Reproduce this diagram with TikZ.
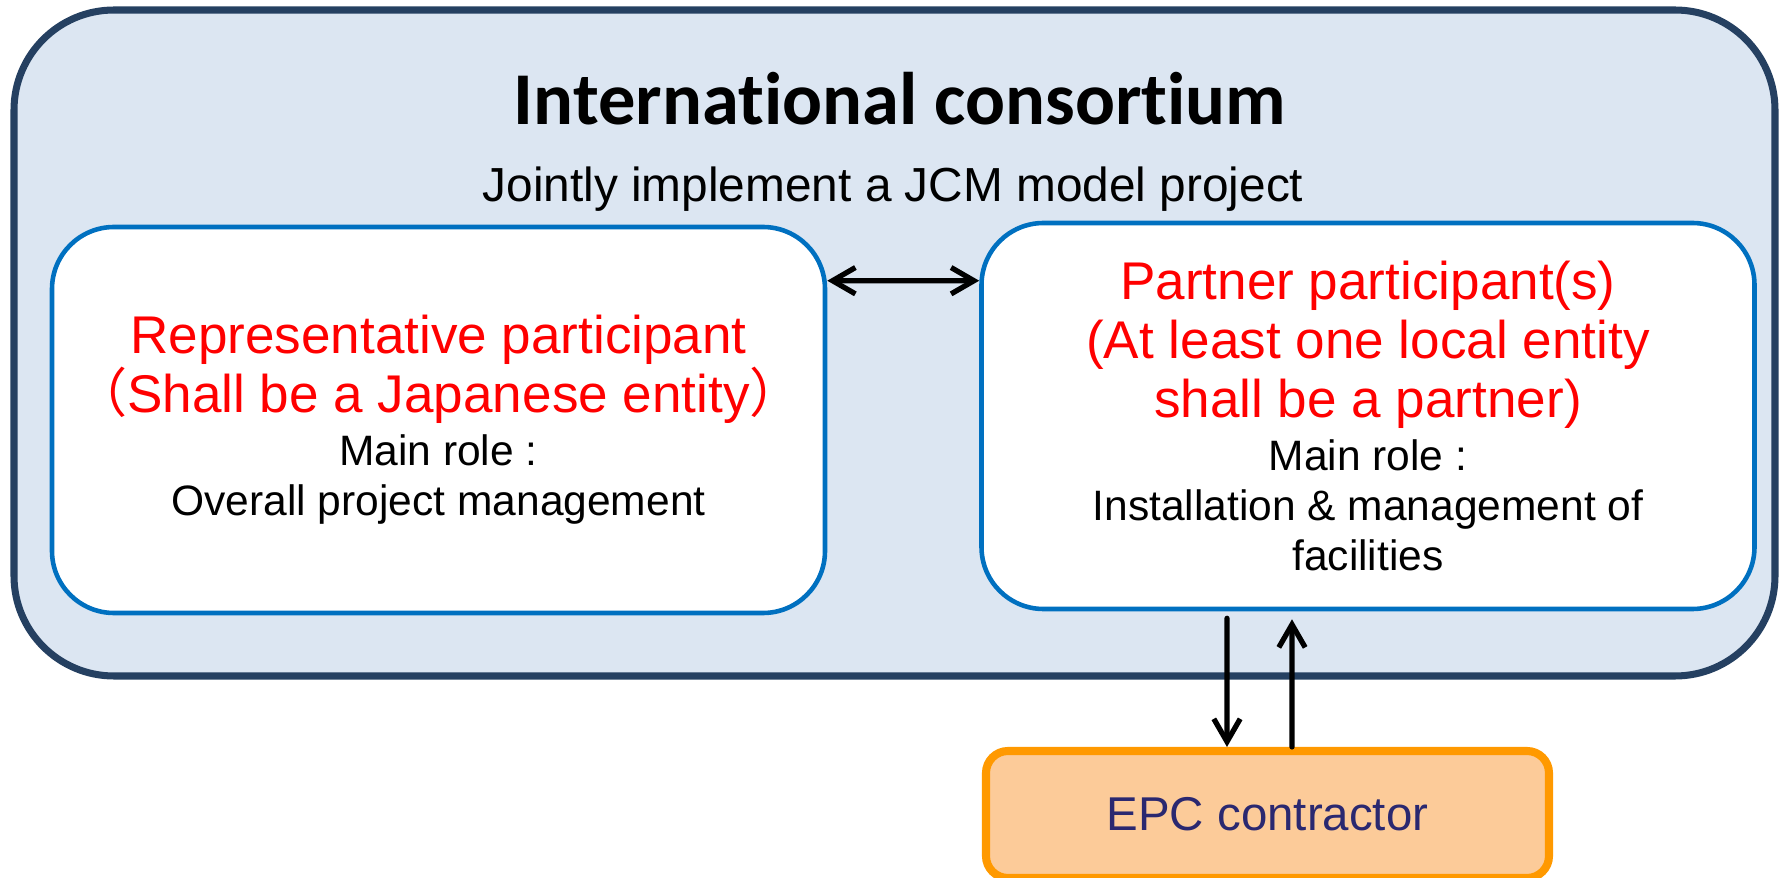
\documentclass[tikz,border=0pt]{standalone}
\usepackage{fontspec}
\setmainfont{Liberation Sans}
\newfontfamily\titlefont[Ligatures = NoCommon]{Carlito}
\newfontfamily\cjkfont{Noto Sans CJK JP}
\usetikzlibrary{arrows.meta}
\definecolor{consfill}{HTML}{DCE6F2}
\definecolor{consline}{HTML}{254061}
\definecolor{partline}{HTML}{0070C0}
\definecolor{epcfill}{HTML}{FCCB99}
\definecolor{epcline}{HTML}{FF9900}
\definecolor{epctext}{HTML}{2A2870}
\setlength{\lineskiplimit}{-5pt}
\newcommand{\roletext}{\color{black}\fontsize{12.1}{14.9}\selectfont}

\begin{document}
\begin{tikzpicture}[
    >={Straight Barb[length = 6.5pt, width = 7.5pt]},
    partbox/.style = {draw = partline, line width = 1.3pt, fill = white,
      rounded corners = 6.2mm, minimum width = 7.73cm, minimum height = 3.86cm,
      align = center, text = red, font = \fontsize{15.1}{16.7}\selectfont},
    link/.style = {line width = 1.5pt, line cap = round},
  ]
  \useasboundingbox (0, 0) rectangle (17.8, 8.77);
  \clip (0, 0) rectangle (17.8, 8.77);

  % consortium frame
  \node[draw = consline, line width = 2pt, fill = consfill, rounded corners = 1cm,
    minimum width = 17.61cm, minimum height = 6.66cm] (cons) at (8.945, 5.34) {};
  \node[font = \titlefont\bfseries\fontsize{21.2}{25}\selectfont, anchor = base]
    (title) at (9.0, 7.52) {International consortium};
  \node[font = \fontsize{13.6}{16}\selectfont, anchor = base]
    (aim) at (8.93, 6.75) {Jointly implement a JCM model project};

  % participants
  \node[partbox] (rep) at (4.385, 4.57)
    {Representative participant\\
     {\cjkfont （}Shall be a Japanese entity{\cjkfont ）}\\[-1.6pt]
     \roletext Main role :\\[-2.5pt]
     \roletext Overall project management};
  \node[partbox] (part) at (13.68, 4.61)
    {Partner participant(s)\\
     (At least one local entity\\
     shall be a partner)\\[-1.6pt]
     \roletext Main role :\\[-2.5pt]
     \roletext Installation \& management of\\[-2.5pt]
     \roletext facilities};

  \node[draw = epcline, line width = 2.3pt, fill = epcfill, rounded corners = 2.2mm,
    minimum width = 5.63cm, minimum height = 1.27cm, text = epctext,
    font = \fontsize{13.5}{16}\selectfont] (epc) at (12.675, 0.625) {EPC contractor};

  \draw[link, <->] ([yshift = -5.6mm]rep.north east) -- ([yshift = -6mm]part.north west);
  \draw[link, ->] ([xshift = -14.1mm, yshift = -0.7mm]part.south) -- ([xshift = -4.05mm]epc.north);
  \draw[link, ->] ([xshift = 2.45mm]epc.north) -- ([xshift = -7.6mm, yshift = -0.8mm]part.south);
\end{tikzpicture}
\end{document}
